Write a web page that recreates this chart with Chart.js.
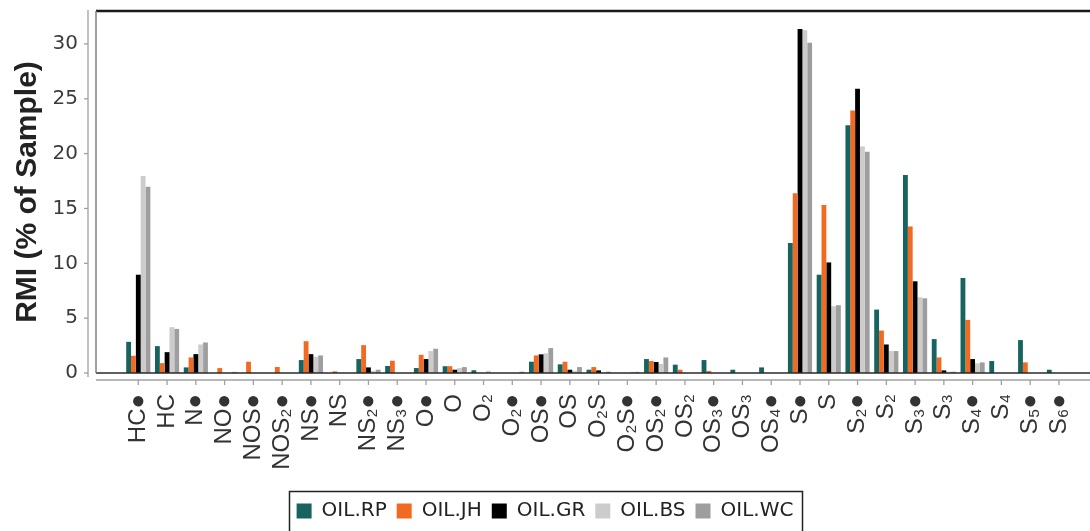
<!DOCTYPE html>
<html><head><meta charset="utf-8">
<script src="https://cdn.jsdelivr.net/npm/chart.js@4"></script>
<style>html,body{margin:0;padding:0;background:#fff;overflow:hidden}#wrap{width:1090px;height:531px;position:relative}canvas{display:block}</style>
</head><body><div id="wrap"><canvas id="c" width="1090" height="531"></canvas></div>
<script>
const categories = ['HC●','HC','N●','NO●','NOS●','NOS₂●','NS●','NS','NS₂●','NS₃●','O●','O','O₂','O₂●','OS●','OS','O₂S','O₂S●','OS₂●','OS₂','OS₃●','OS₃','OS₄●','S●','S','S₂●','S₂','S₃●','S₃','S₄●','S₄','S₅●','S₆●'];
const seriesNames = ['OIL.RP','OIL.JH','OIL.GR','OIL.BS','OIL.WC'];
const seriesColors = ['#17635f','#f26a21','#000000','#cccccc','#9e9e9e'];
const oilRP = [2.84,2.45,0.51,0,0,0,1.18,0,1.27,0.64,0.45,0.62,0.25,0,1.03,0.79,0.3,0,1.27,0.76,1.18,0.3,0.51,11.84,8.96,22.59,5.78,18.04,3.09,8.66,1.09,3.0,0.3];
const oilJH = [1.57,0.9,1.42,0.45,1.03,0.55,2.9,0.15,2.54,1.12,1.66,0.62,0,0,1.6,1.03,0.54,0,1.09,0.3,0.18,0,0,16.38,15.32,23.92,3.87,13.35,1.42,4.84,0,0.97,0];
const oilGR = [8.96,1.9,1.72,0,0,0,1.72,0,0.51,0,1.27,0.3,0,0,1.7,0.3,0.24,0,1.0,0,0,0,0,31.36,10.08,25.92,2.6,8.36,0.24,1.27,0,0,0];
const oilBS = [17.96,4.18,2.6,0,0,0,1.48,0,0.2,0,2.0,0.45,0.18,0,1.79,0.2,0.05,0.1,0.82,0,0,0,0,31.24,6.09,20.65,2.0,6.9,0.12,0.88,0,0,0];
const oilWC = [16.98,4.02,2.78,0.1,0,0,1.6,0,0.3,0,2.21,0.54,0,0.12,2.27,0.54,0.12,0.1,1.42,0,0,0,0,30.1,6.18,20.16,2.0,6.81,0.12,0.97,0,0,0];
const yTickValues = [0,5,10,15,20,25,30];
const yTitle = 'RMI (% of Sample)';

const allSeries = [oilRP, oilJH, oilGR, oilBS, oilWC];
const datasets = allSeries.map((vals, k) => ({
  label: seriesNames[k],
  data: vals.map((v, i) => ({x: i, y: v})),
  backgroundColor: seriesColors[k],
  borderWidth: 0,
  categoryPercentage: 0.84,
  barPercentage: 1.0
}));

const panelPlugin = {
  id: 'panel',
  afterDraw(chart) {
    const ctx = chart.ctx, a = chart.chartArea;
    const xs = chart.scales.x, ys = chart.scales.y;
    ctx.save();
    ctx.strokeStyle = '#1a1a1a'; ctx.lineWidth = 2.5;
    ctx.beginPath(); ctx.moveTo(a.left, a.top); ctx.lineTo(a.right, a.top); ctx.stroke();
    ctx.strokeStyle = '#2a2a2a'; ctx.lineWidth = 1.6;
    ctx.beginPath(); ctx.moveTo(a.left, a.bottom); ctx.lineTo(a.right, a.bottom); ctx.stroke();
    ctx.strokeStyle = '#808080'; ctx.lineWidth = 1.5;
    ctx.beginPath(); ctx.moveTo(a.left, a.top); ctx.lineTo(a.left, a.bottom); ctx.stroke();
    ctx.strokeStyle = '#a0a0a0'; ctx.lineWidth = 1.3;
    const yx = a.left - 8;
    ctx.beginPath(); ctx.moveTo(yx, a.top - 1); ctx.lineTo(yx, a.bottom + 4); ctx.stroke();
    yTickValues.forEach(v => { const py = ys.getPixelForValue(v); ctx.beginPath(); ctx.moveTo(yx - 4, py); ctx.lineTo(yx, py); ctx.stroke(); });
    const xy = a.bottom + 7;
    ctx.beginPath(); ctx.moveTo(a.left, xy); ctx.lineTo(a.right, xy); ctx.stroke();
    categories.forEach((c, i) => { const px = xs.getPixelForValue(i); ctx.beginPath(); ctx.moveTo(px, xy); ctx.lineTo(px, xy + 5); ctx.stroke(); });
    const hb = chart.legend.legendHitBoxes;
    if (hb && hb.length) {
      const l = hb[0].left - 8, last = hb[hb.length - 1];
      const r = last.left + last.width + 8;
      const t = hb[0].top - 10;
      ctx.strokeStyle = '#222'; ctx.lineWidth = 1.5;
      ctx.strokeRect(Math.round(l) + 0.5, Math.round(t) + 0.5, Math.round(r - l), 80);
    }
    ctx.restore();
  }
};

new Chart(document.getElementById('c'), {
  type: 'bar',
  data: { datasets },
  plugins: [panelPlugin],
  options: {
    responsive: false,
    animation: false,
    devicePixelRatio: 1,
    layout: { padding: { top: 11, left: 0, right: 0, bottom: 0 } },
    plugins: {
      legend: {
        position: 'bottom',
        labels: { boxWidth: 15, boxHeight: 15, padding: 10, color: '#222', font: { family: 'DejaVu Sans', size: 20 } }
      },
      tooltip: { enabled: false }
    },
    scales: {
      x: {
        type: 'linear',
        position: 'bottom',
        min: -1.47,
        max: 33.08,
        offset: false,
        grid: { display: false, drawTicks: false },
        border: { display: false },
        afterBuildTicks: s => { s.ticks = categories.map((_, i) => ({ value: i })); },
        afterFit: s => { s.height = 118; s.paddingLeft = 0; s.paddingRight = 0; s.paddingTop = 0; s.paddingBottom = 0; },
        ticks: {
          autoSkip: false, maxRotation: 90, minRotation: 90, padding: 21,
          color: '#333', font: { family: 'Liberation Sans', size: 24 },
          callback: v => categories[v]
        }
      },
      y: {
        min: 0, max: 33,
        grid: { display: false, drawTicks: false },
        border: { display: false },
        afterFit: s => { s.width = 96; s.paddingTop = 0; s.paddingBottom = 0; s.paddingLeft = 0; s.paddingRight = 0; },
        afterBuildTicks: s => { s.ticks = yTickValues.map(v => ({ value: v })); },
        ticks: { padding: 18, color: '#3b3b3b', font: { family: 'DejaVu Sans', size: 20 } },
        title: { display: true, text: yTitle, color: '#222', font: { family: 'Liberation Sans', size: 30, weight: 'bold' }, padding: { top: 10, bottom: 0 } }
      }
    }
  }
});
</script>
</body></html>
